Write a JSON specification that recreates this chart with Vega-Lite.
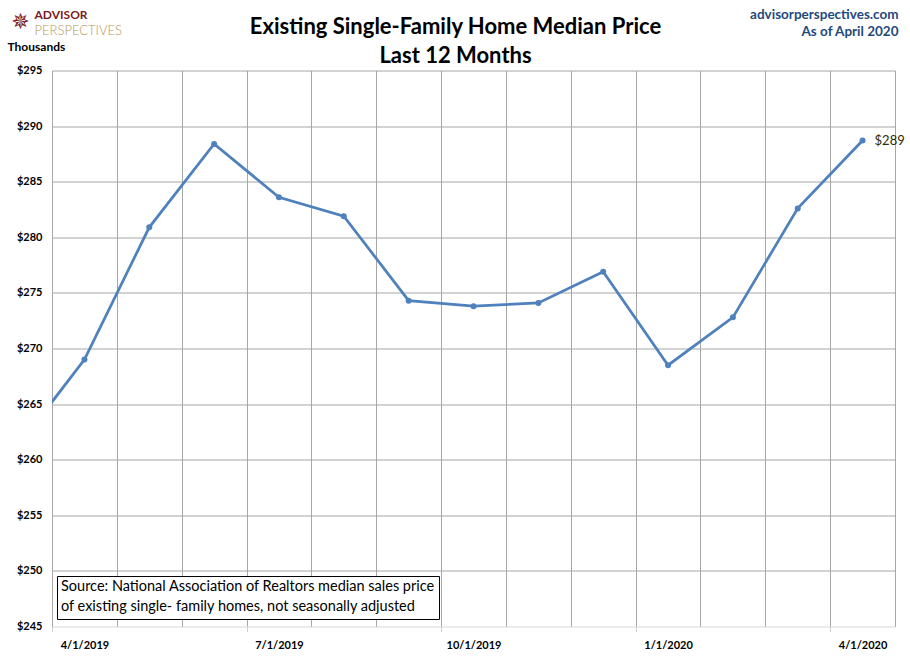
{
  "$schema": "https://vega.github.io/schema/vega-lite/v6.json",
  "width": 843,
  "height": 556,
  "autosize": "none",
  "padding": {"left": 52, "top": 70.5, "right": 15, "bottom": 34.5},
  "background": "white",
  "config": {"view": {"stroke": null}, "font": "Lato"},
  "data": {
    "values": [
      {"idx": 0, "date": "2019-03-01", "series": "Median price", "price": 261.4},
      {"idx": 1, "date": "2019-04-01", "series": "Median price", "price": 269.0},
      {"idx": 2, "date": "2019-05-01", "series": "Median price", "price": 280.9},
      {"idx": 3, "date": "2019-06-01", "series": "Median price", "price": 288.4},
      {"idx": 4, "date": "2019-07-01", "series": "Median price", "price": 283.6},
      {"idx": 5, "date": "2019-08-01", "series": "Median price", "price": 281.9},
      {"idx": 6, "date": "2019-09-01", "series": "Median price", "price": 274.3},
      {"idx": 7, "date": "2019-10-01", "series": "Median price", "price": 273.8},
      {"idx": 8, "date": "2019-11-01", "series": "Median price", "price": 274.1},
      {"idx": 9, "date": "2019-12-01", "series": "Median price", "price": 276.9},
      {"idx": 10, "date": "2020-01-01", "series": "Median price", "price": 268.5},
      {"idx": 11, "date": "2020-02-01", "series": "Median price", "price": 272.8},
      {"idx": 12, "date": "2020-03-01", "series": "Median price", "price": 282.6},
      {"idx": 13, "date": "2020-04-01", "series": "Median price", "price": 288.7}
    ]
  },
  "resolve": {"axis": {"x": "independent", "y": "independent"}},
  "layer": [
    {
      "mark": {"type": "line", "color": "#4F81BD", "strokeWidth": 2.75, "clip": true},
      "encoding": {
        "x": {
          "field": "idx", "type": "quantitative",
          "scale": {"domain": [0.5, 13.5], "nice": false, "zero": false},
          "axis": {
            "orient": "bottom",
            "values": [0.5, 1.5, 2.5, 3.5, 4.5, 5.5, 6.5, 7.5, 8.5, 9.5, 10.5, 11.5, 12.5, 13.5],
            "grid": true, "gridColor": "#A6A6A6", "gridWidth": 1, "gridOpacity": 1,
            "labels": false, "ticks": true, "tickSize": 5, "tickColor": "#D0D0D0",
            "tickOpacity": {"condition": {"test": "datum.value==0.5||datum.value==3.5||datum.value==6.5||datum.value==9.5||datum.value==12.5", "value": 1}, "value": 0},
            "domain": false, "title": null
          }
        },
        "y": {
          "field": "price", "type": "quantitative",
          "scale": {"domain": [245, 295], "nice": false, "zero": false},
          "axis": {
            "orient": "left",
            "values": [245, 250, 255, 260, 265, 270, 275, 280, 285, 290, 295],
            "grid": true, "gridColor": "#A6A6A6", "gridWidth": 1,
            "gridOpacity": {"condition": {"test": "datum.value==245", "value": 0}, "value": 1},
            "ticks": false, "domain": false,
            "labelExpr": "'$' + datum.value",
            "labelFont": "Lato", "labelFontWeight": "bold", "labelFontSize": 11, "labelColor": "black",
            "labelPadding": 10, "labelFlush": false,
            "title": "Thousands", "titleAngle": 0, "titleX": -45, "titleY": -20.5,
            "titleAlign": "left", "titleBaseline": "alphabetic",
            "titleFont": "Lato", "titleFontSize": 12, "titleFontWeight": "bold", "titleColor": "black"
          }
        }
      }
    },
    {
      "mark": {"type": "point", "filled": true, "color": "#4F81BD", "size": 36, "opacity": 1, "clip": true},
      "encoding": {
        "x": {
          "field": "idx", "type": "quantitative",
          "axis": {
            "orient": "bottom",
            "values": [1, 4, 7, 10, 13],
            "grid": false, "ticks": false, "tickSize": 0,
            "domain": true, "domainColor": "#D9D9D9", "domainWidth": 1,
            "labelExpr": "datum.value==1?'4/1/2019':datum.value==4?'7/1/2019':datum.value==7?'10/1/2019':datum.value==10?'1/1/2020':'4/1/2020'",
            "labelFont": "Lato", "labelFontWeight": "bold", "labelFontSize": 11, "labelColor": "black",
            "labelBaseline": "alphabetic", "labelPadding": 22, "labelFlush": false, "labelOverlap": false,
            "title": null
          }
        },
        "y": {
          "field": "price", "type": "quantitative",
          "axis": {
            "orient": "right", "labels": false, "ticks": false, "domain": false, "grid": false,
            "title": "ADVISOR", "titleAngle": 0, "titleX": -861, "titleY": -52.5,
            "titleAlign": "left", "titleBaseline": "alphabetic",
            "titleFont": "Lato", "titleFontSize": 12, "titleFontWeight": "bold", "titleColor": "#7A1C22"
          }
        },
        "shape": {
          "field": "series", "type": "nominal",
          "scale": {"range": ["circle"]},
          "legend": {
            "orient": "none", "legendX": 5, "legendY": 505.5,
            "title": ["Source: National Association of Realtors median sales price", "of existing single- family homes, not seasonally adjusted"],
            "titleFont": "Lato", "titleFontSize": 14.5, "titleFontWeight": "normal", "titleColor": "black",
            "titleLineHeight": 20, "titleLimit": 600, "titlePadding": 0,
            "padding": 4, "strokeColor": "black", "fillColor": "white",
            "symbolSize": 0, "symbolOpacity": 0, "symbolStrokeWidth": 0,
            "labelFontSize": 1, "labelExpr": "''", "rowPadding": 0
          }
        }
      }
    },
    {
      "transform": [{"filter": "datum.idx == 13"}],
      "mark": {"type": "text", "align": "left", "baseline": "middle", "dx": 12, "dy": 0, "fontSize": 13, "font": "Lato", "color": "#2E2E00", "clip": false},
      "encoding": {
        "x": {
          "field": "idx", "type": "quantitative",
          "axis": {
            "orient": "top", "labels": false, "ticks": false, "domain": false, "grid": false,
            "title": ["Existing Single-Family Home Median Price", "Last 12 Months"],
            "titleX": 403, "titleY": -37, "titleAlign": "center", "titleBaseline": "alphabetic",
            "titleFont": "Lato", "titleFontSize": 22, "titleFontWeight": "bold", "titleLineHeight": 29, "titleColor": "black"
          }
        },
        "y": {
          "field": "price", "type": "quantitative",
          "axis": {
            "orient": "right", "labels": false, "ticks": false, "domain": false, "grid": false,
            "title": "PERSPECTIVES", "titleAngle": 0, "titleX": -861, "titleY": -36.5,
            "titleAlign": "left", "titleBaseline": "alphabetic",
            "titleFont": "Lato", "titleFontSize": 13, "titleFontWeight": 300, "titleColor": "#B8975A"
          }
        },
        "text": {"field": "price", "type": "quantitative", "format": "$.0f"}
      }
    },
    {
      "transform": [{"filter": "datum.idx == 13"}],
      "mark": {"type": "point", "opacity": 0, "size": 1},
      "encoding": {
        "x": {
          "field": "idx", "type": "quantitative",
          "axis": {
            "orient": "top", "labels": false, "ticks": false, "domain": false, "grid": false,
            "title": ["advisorperspectives.com", "As of April 2020"],
            "titleX": 846, "titleY": -52.5, "titleAlign": "right", "titleBaseline": "alphabetic",
            "titleFont": "Lato", "titleFontSize": 13.5, "titleFontWeight": "bold", "titleLineHeight": 17, "titleColor": "#1F497D"
          }
        },
        "y": {
          "field": "price", "type": "quantitative",
          "axis": {
            "orient": "left", "labels": false, "ticks": false, "domain": false, "grid": false,
            "title": "✵", "titleAngle": 0, "titleX": -32, "titleY": -49,
            "titleAlign": "center", "titleBaseline": "middle",
            "titleFont": "DejaVu Sans", "titleFontSize": 22, "titleFontWeight": "normal", "titleColor": "#7A1C22"
          }
        }
      }
    }
  ]
}
